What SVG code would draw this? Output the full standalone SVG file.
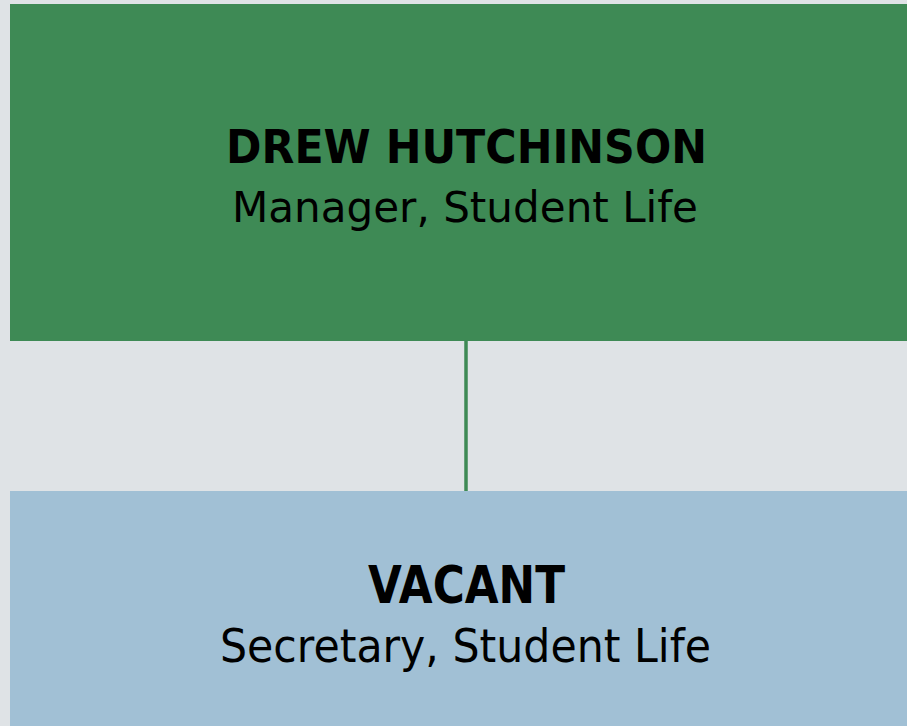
<svg xmlns="http://www.w3.org/2000/svg" width="907" height="726" viewBox="0 0 907 726">
<style>
.name{font-family:"DejaVu Sans",Verdana,sans-serif;font-weight:bold;fill:#000;text-anchor:middle}
.role{font-family:"DejaVu Sans",Verdana,sans-serif;fill:#000;text-anchor:middle}
</style>
<rect width="907" height="726" fill="#DFE3E6"/>
<g id="connectors">
<line x1="466" y1="340" x2="466" y2="493" stroke="#3E8A55" stroke-width="3.5"/>
</g>
<g id="node-drew">
<rect x="10" y="4" width="912" height="337" fill="#3E8A55"/>
<text class="name" x="466.5" y="163" font-size="47" textLength="481" lengthAdjust="spacingAndGlyphs">DREW HUTCHINSON</text>
<text class="role" x="465" y="222" font-size="43" textLength="466" lengthAdjust="spacingAndGlyphs">Manager, Student Life</text>
</g>
<g id="node-vacant">
<rect x="10" y="491" width="912" height="240" fill="#A1C0D5"/>
<text class="name" x="466.5" y="603" font-size="51" textLength="197" lengthAdjust="spacingAndGlyphs">VACANT</text>
<text class="role" x="465.5" y="662" font-size="47" textLength="491" lengthAdjust="spacingAndGlyphs">Secretary, Student Life</text>
</g>
</svg>
